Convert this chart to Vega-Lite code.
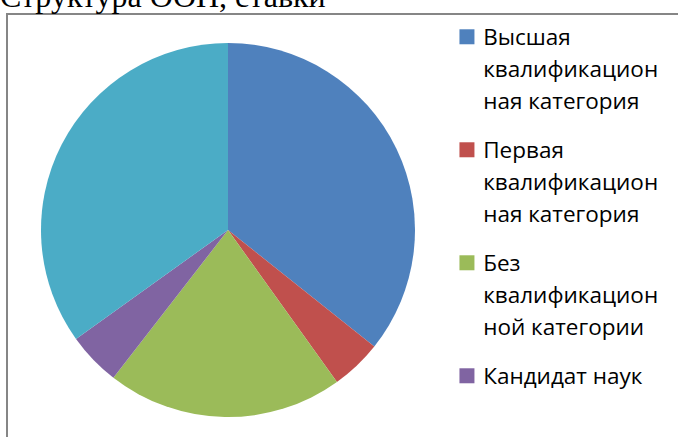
{
  "$schema": "https://vega.github.io/schema/vega-lite/v6.json",
  "autosize": {"type": "none"},
  "padding": {"left": 7, "top": 14, "right": 250, "bottom": 0},
  "width": 442,
  "height": 432,
  "background": "white",
  "title": {
    "text": "Структура ООП, ставки",
    "anchor": "start",
    "frame": "group",
    "font": "Liberation Serif",
    "fontSize": 32,
    "fontWeight": "normal",
    "color": "#000000",
    "baseline": "alphabetic",
    "offset": -26,
    "dx": -7
  },
  "data": {
    "values": [
      {"category": "Высшая квалификационная категория", "value": 35.7, "rank": 1},
      {"category": "Первая квалификационная категория", "value": 4.4, "rank": 2},
      {"category": "Без квалификационной категории", "value": 20.4, "rank": 3},
      {"category": "Кандидат наук", "value": 4.6, "rank": 4},
      {"category": "Доктор наук", "value": 34.9, "rank": 5}
    ]
  },
  "mark": {"type": "arc", "outerRadius": 187},
  "encoding": {
    "theta": {"field": "value", "type": "quantitative", "stack": true},
    "order": {"field": "rank", "type": "quantitative"},
    "color": {
      "field": "category",
      "type": "nominal",
      "sort": null,
      "scale": {
        "domain": ["Высшая квалификационная категория", "Первая квалификационная категория", "Без квалификационной категории", "Кандидат наук", "Доктор наук"],
        "range": ["#4F81BD", "#C0504D", "#9BBB59", "#8064A2", "#4BACC6"]
      },
      "legend": {
        "values": ["Высшая квалификационная категория", "Первая квалификационная категория", "Без квалификационной категории", "Кандидат наук"],
        "orient": "none",
        "legendX": 0,
        "legendY": 0,
        "title": "\u00a0",
        "titleOrient": "left",
        "titleFontSize": 1,
        "titlePadding": 428.7,
        "padding": 20,
        "strokeColor": "#868686",
        "symbolType": "M-1,-2.13H1V-0.13H-1Z",
        "symbolSize": 225,
        "symbolStrokeWidth": 0,
        "symbolOpacity": 1,
        "labelFont": "Open Sans",
        "labelFontSize": 22.5,
        "labelColor": "#000000",
        "labelOffset": 5,
        "labelLimit": 500,
        "labelBaseline": "alphabetic",
        "rowPadding": 26,
        "labelExpr": "datum.label == 'Высшая квалификационная категория' ? ['Высшая', 'квалификацион\u00a0\u00a0\u00a0\u00a0\u00a0\u00a0\u00a0\u00a0', 'ная категория'] : datum.label == 'Первая квалификационная категория' ? ['Первая', 'квалификацион', 'ная категория'] : datum.label == 'Без квалификационной категории' ? ['Без', 'квалификацион', 'ной категории'] : ['Кандидат наук', '\u00a0', '\u00a0', '\u00a0']"
      }
    }
  },
  "config": {
    "view": {"stroke": null},
    "legend": {"strokeWidth": 2},
    "style": {"guide-label": {"lineHeight": 32}}
  }
}
